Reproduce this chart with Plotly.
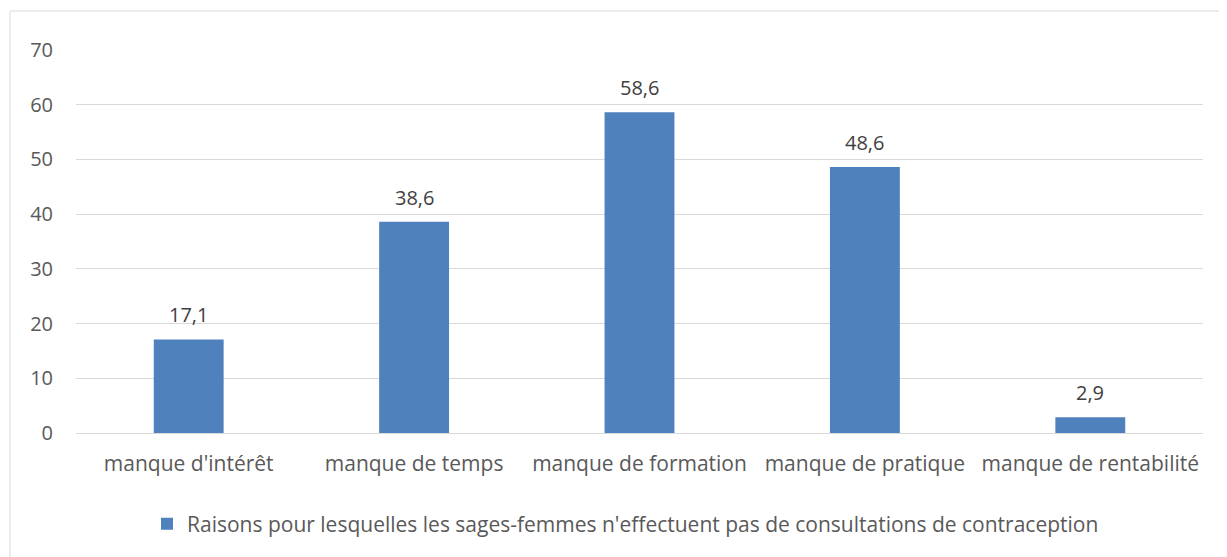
import plotly.graph_objects as go

categories = ["manque d'intérêt", "manque de temps", "manque de formation", "manque de pratique", "manque de rentabilité"]
values = [17.1, 38.6, 58.6, 48.6, 2.9]
labels = ["17,1", "38,6", "58,6", "48,6", "2,9"]
series_name = "Raisons pour lesquelles les sages-femmes n'effectuent pas de consultations de contraception"
y_ticks = [0, 10, 20, 30, 40, 50, 60, 70]

OFF = 8  # page body margin
W, H = 1227 - OFF, 557 - OFF
L = 76 - OFF
R = W - (1203 - OFF)
T = 50 - OFF
B = H - (433 - OFF)
pw, ph = W - L - R, H - T - B

FONT = "Open Sans"
FS = 21

fig = go.Figure()
fig.add_trace(go.Bar(
    x=categories, y=values, name=series_name,
    marker=dict(color="#4F81BD", line=dict(width=0)),
))

for c, v, t in zip(categories, values, labels):
    fig.add_annotation(x=c, y=v, text=t, showarrow=False, yanchor="bottom", yshift=9,
                       font=dict(family=FONT, size=FS - 1, color="#404040"))

def px_x(p):
    return (p - OFF - L) / pw

def px_y(p):
    return (H - B - (p - OFF)) / ph

fig.update_layout(
    width=W, height=H,
    margin=dict(l=L, r=R, t=T, b=B),
    paper_bgcolor="white", plot_bgcolor="white",
    bargap=0.69,
    font=dict(family=FONT, size=FS, color="#595959"),
    showlegend=True,
    legend=dict(orientation="h", x=0.5 - 14 / pw, xanchor="center", y=px_y(524), yanchor="middle",
                itemwidth=30,
                font=dict(family=FONT, size=FS, color="#595959")),
    xaxis=dict(showgrid=False, showline=False, ticks="", ticklabelstandoff=16,
               tickfont=dict(size=FS, color="#595959")),
    yaxis=dict(range=[0, 70], tickvals=y_ticks, showgrid=True, gridcolor="#D9D9D9", gridwidth=1,
               zeroline=True, zerolinecolor="#D9D9D9", zerolinewidth=1, showline=False, ticks="",
               ticklabelstandoff=22, tickfont=dict(size=FS - 1, color="#595959")),
    shapes=[dict(type="rect", xref="paper", yref="paper",
                 x0=px_x(10), x1=px_x(1221), y0=px_y(570), y1=px_y(11),
                 line=dict(color="#D9D9D9", width=1), fillcolor="rgba(0,0,0,0)", layer="below")],
)

fig.write_html("out.html")
